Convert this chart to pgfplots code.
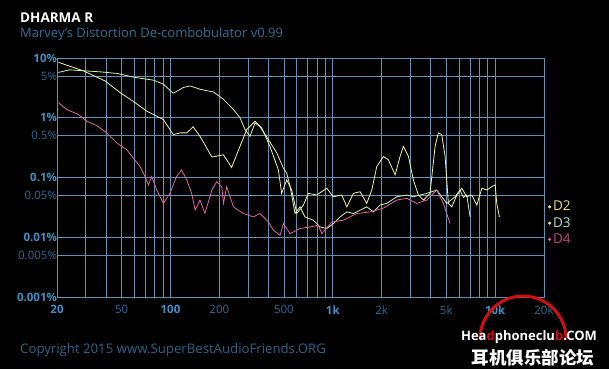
\documentclass[border=0pt]{standalone}
\usepackage{fontspec}
\setmainfont{Open Sans}
\newfontfamily\cjk{Noto Sans CJK SC}
\usepackage{pgfplots}
\pgfplotsset{compat=1.18}
\definecolor{gridc}{HTML}{6391B3}
\definecolor{tickb}{HTML}{3E90C4}
\definecolor{tickd}{HTML}{2C6A93}
\definecolor{subc}{HTML}{2F7096}
\definecolor{copyc}{HTML}{2A6488}
\definecolor{dtwo}{HTML}{F2F2A6}
\definecolor{dthree}{HTML}{D6F2B0}
\definecolor{dfour}{HTML}{E064A4}
\definecolor{dtwot}{HTML}{F0E07A}
\definecolor{dthreet}{HTML}{B4E2CE}
\definecolor{dfourt}{HTML}{C8448A}
\definecolor{logored}{HTML}{D01010}
\newcommand{\B}[1]{\textcolor{tickb}{\bfseries #1}}
\newcommand{\D}[1]{\textcolor{tickd}{#1}}
\begin{document}
\begin{tikzpicture}[x=1pt,y=1pt]
\fill[black] (0,0) rectangle (609,369);
\begin{axis}[
  at={(57pt,72pt)}, anchor=south west, scale only axis,
  width=487pt, height=239pt,
  xmode=log, ymode=log,
  xmin=20, xmax=20000, ymin=0.001, ymax=10,
  axis line style={gridc, line width=0.8pt},
  xtick={20,50,100,200,500,1000,2000,5000,10000,20000},
  xticklabels={\B{20},\D{50},\B{100},\D{200},\D{500},\B{1k},\D{2k},\D{5k},\B{10k},\D{20k}},
  minor xtick={30,40,60,70,80,90,300,400,600,700,800,900,3000,4000,6000,7000,8000,9000},
  ytick={0.001,0.005,0.01,0.05,0.1,0.5,1,5,10},
  yticklabels={\B{0.001\%},\D{0.005\%},\B{0.01\%},\D{0.05\%},\B{0.1\%},\D{0.5\%},\B{1\%},\D{5\%},\B{10\%}},
  xmajorgrids, xminorgrids, ymajorgrids,
  major grid style={gridc, line width=0.7pt},
  minor grid style={gridc, line width=0.7pt},
  major tick length=0pt, minor tick length=0pt,
  tick label style={font=\fontsize{11.5}{12}\selectfont},
  /pgf/number format/assume math mode=true,
  yticklabel style={xshift=3.5pt},
  xticklabel style={yshift=-5pt},
  legend style={at={(1.008,0.41)}, anchor=north west, draw=none, fill=none,
    font=\fontsize{13.5}{15}\selectfont, row sep=1pt, inner sep=0pt},
  legend cell align=left,
  legend image code/.code={\fill (0.2cm,0cm) circle (1.1pt);},
]
% D2
\addplot[dtwo, line width=0.8pt] coordinates {
(20.4,8.46)(29.0,6.11)(39.5,4.14)(48.9,2.64)(60.5,1.79)(71.4,1.29)(90.4,0.935)
(104,0.523)(115,0.558)(126,0.558)(138,0.705)(152,0.490)(180,0.220)(212,0.240)
(238,0.147)(268,0.332)(295,0.635)(332,0.877)(365,0.678)(410,0.332)(462,0.134)
(484,0.0543)(520,0.0912)(558,0.0618)(600,0.0250)(659,0.0345)(707,0.0543)
(796,0.0509)(918,0.0661)(1008,0.0476)(1135,0.0509)(1220,0.0323)(1340,0.0543)
(1472,0.0578)(1618,0.0369)(1738,0.0618)(1866,0.153)(2048,0.225)(2198,0.198)
(2420,0.111)(2596,0.225)(2722,0.332)(2924,0.225)(3134,0.0912)(3366,0.0509)
(3614,0.0419)(3972,0.0543)(4266,0.332)(4468,0.558)(4688,0.523)(4918,0.225)
(5152,0.0369)(5408,0.0323)(5808,0.0509)(6238,0.0661)(6684,0.0476)(7178,0.0509)
(7710,0.0345)(8280,0.0661)(8892,0.0618)(9528,0.0703)(10000,0.075)(10234,0.0369)
(10620,0.0219)
};
\addlegendentry{\textcolor{dtwot}{D2}}
% D3
\addplot[dthree, line width=0.8pt] coordinates {
(20.4,5.74)(24.0,6.35)(29.0,6.11)(36.8,5.87)(46.7,5.52)(60.5,4.73)(78.4,4.26)
(90.4,3.65)(104,2.57)(120,3.21)(132,3.41)(152,3.0)(184,2.70)(212,2.04)(244,1.38)
(268,1.0)(288,0.635)(309,0.49)(332,0.824)(356,0.705)(401,0.431)(452,0.257)
(496,0.144)(520,0.118)(546,0.0703)(585,0.025)(628,0.0323)(674,0.0219)(759,0.0193)
(834,0.0149)(918,0.0140)(1008,0.0169)(1109,0.0219)(1220,0.0266)(1340,0.025)
(1472,0.0284)(1618,0.0323)(1778,0.0266)(1954,0.0345)(2148,0.0369)(2478,0.0476)
(2858,0.0509)(3134,0.0476)(3452,0.0509)(3794,0.0543)(4074,0.0578)(4366,0.0618)
(4688,0.0476)(5036,0.0369)(5662,0.0476)(6082,0.0618)(6368,0.0466)(6684,0.0509)
(7012,0.0219)
};
\addlegendentry{\textcolor{dthreet}{D3}}
% D4
\addplot[dfour, line width=0.8pt] coordinates {
(20.4,1.79)(22.9,1.38)(27.0,1.14)(30.5,0.877)(35.1,0.741)(40.5,0.558)(46.7,0.379)
(53.8,0.292)(59.0,0.211)(64.9,0.153)(69.7,0.104)(73.1,0.075)(76.6,0.104)
(82.3,0.0618)(90.4,0.0369)(99.3,0.0543)(109,0.104)(117,0.134)(126,0.0912)
(135,0.0543)(142,0.0284)(152,0.0419)(163,0.025)(180,0.0618)(193,0.0853)
(207,0.0703)(212,0.0369)(222,0.0703)(244,0.0323)(281,0.025)(324,0.0219)
(356,0.025)(401,0.018)(431,0.0131)(473,0.0108)(496,0.0169)(546,0.0115)
(628,0.014)(724,0.0149)(815,0.0159)(855,0.0115)(986,0.018)(1162,0.0193)
(1405,0.025)(1705,0.0266)(2048,0.0307)(2478,0.0419)(2858,0.0448)(3288,0.0369)
(3794,0.0419)(4366,0.0618)(4798,0.0369)(5276,0.0169)
};
\addlegendentry{\textcolor{dfourt}{D4}}
\end{axis}
% titles
\node[anchor=base west, inner sep=0pt, text=white, font=\fontsize{13.5}{15}\selectfont\bfseries] at (20,346.5) {DHARMA R};
\node[anchor=base west, inner sep=0pt, text=subc, font=\fontsize{13}{15}\selectfont] at (20,331.5) {Marvey's Distortion De-combobulator v0.99};
\node[anchor=base west, inner sep=0pt, text=copyc, font=\fontsize{13.2}{15}\selectfont] at (20,16) {Copyright 2015 www.SuperBestAudioFriends.ORG};
% watermark
\draw[logored, line width=3pt] (480,30) arc[start angle=180, end angle=0, radius=43];
\node[anchor=base, inner sep=0pt, text=white, font=\fontsize{13}{15}\selectfont\bfseries] at (529,28.5) {Hea\textcolor{logored}{d}phoneclu\textcolor{logored}{b}.COM};
\node[anchor=base, inner sep=0pt, text=white, font=\fontsize{17.5}{19}\cjk\bfseries] at (533,5) {耳机俱乐部论坛};
\end{tikzpicture}
\end{document}
